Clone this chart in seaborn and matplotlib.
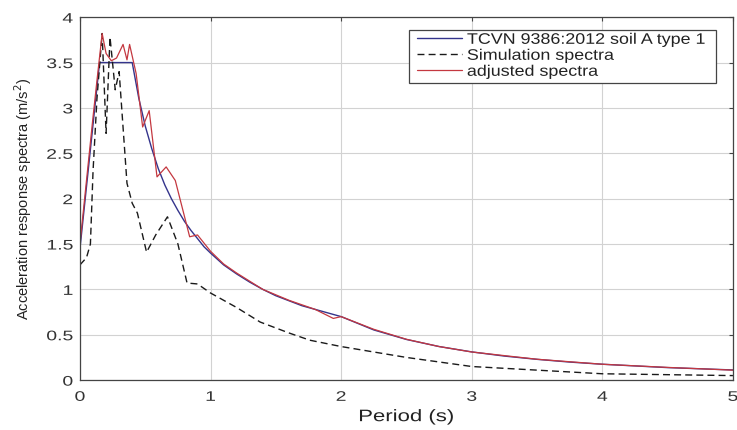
import seaborn as sns
import matplotlib.pyplot as plt
from matplotlib.patches import Rectangle
from matplotlib.patheffects import AbstractPathEffect
from matplotlib.transforms import Affine2D

# Design spectrum TCVN 9386:2012, soil A, type 1
t_design = [0, 0.15, 0.4, 0.45, 0.5, 0.55, 0.6, 0.65, 0.7, 0.75, 0.8, 0.85, 0.9, 0.95,
            1.0, 1.1, 1.2, 1.3, 1.4, 1.5, 1.6, 1.7, 1.8, 1.9, 2.0, 2.25, 2.5, 2.75,
            3.0, 3.25, 3.5, 3.75, 4.0, 4.5, 5.0]
sa_design = [1.45, 3.5, 3.5, 3.11, 2.8, 2.55, 2.33, 2.15, 2.0, 1.87, 1.75, 1.65, 1.56,
             1.47, 1.4, 1.27, 1.17, 1.08, 1.0, 0.93, 0.875, 0.82, 0.78, 0.74, 0.7,
             0.553, 0.448, 0.37, 0.311, 0.265, 0.229, 0.199, 0.175, 0.138, 0.112]

# Simulation spectra
t_sim = [0, 0.05, 0.08, 0.1, 0.13, 0.17, 0.2, 0.23, 0.27, 0.3, 0.36, 0.4, 0.44, 0.51,
         0.58, 0.67, 0.75, 0.82, 0.9, 1.0, 1.2, 1.38, 1.6, 1.76, 2.0, 2.5, 3.0, 3.5,
         4.0, 4.5, 5.0]
sa_sim = [1.27, 1.35, 1.5, 2.3, 3.1, 3.82, 2.72, 3.78, 3.2, 3.4, 2.17, 1.95, 1.84, 1.41,
          1.6, 1.8, 1.5, 1.07, 1.06, 0.96, 0.8, 0.64, 0.52, 0.44, 0.37, 0.25, 0.15, 0.11,
          0.07, 0.06, 0.05]

# Adjusted spectra
t_adj = [0, 0.05, 0.1, 0.13, 0.17, 0.2, 0.24, 0.28, 0.33, 0.36, 0.38, 0.43, 0.48, 0.53,
         0.59, 0.66, 0.73, 0.84, 0.9, 1.0, 1.1, 1.2, 1.4, 1.6, 1.8, 1.94, 2.0, 2.25, 2.5,
         2.75, 3.0, 3.5, 4.0, 4.5, 5.0]
sa_adj = [1.5, 2.2, 2.9, 3.3, 3.82, 3.6, 3.52, 3.55, 3.7, 3.53, 3.7, 3.38, 2.79, 2.97,
          2.24, 2.35, 2.2, 1.58, 1.6, 1.42, 1.28, 1.18, 1.0, 0.88, 0.78, 0.68, 0.7, 0.56,
          0.45, 0.37, 0.31, 0.23, 0.175, 0.14, 0.11]

labels = ['TCVN 9386:2012 soil A type 1', 'Simulation spectra', 'adjusted spectra']


# the reference text is drawn wider than normal; stretch it horizontally
class HStretch(AbstractPathEffect):
    def __init__(self, sx, anchor='center'):
        super().__init__()
        self.sx = sx
        self.anchor = anchor

    def draw_path(self, renderer, gc, tpath, affine, rgbFace=None):
        ext = tpath.get_extents(affine)
        x0 = {'left': ext.x0, 'right': ext.x1}.get(self.anchor, (ext.x0 + ext.x1) / 2)
        tr = affine + Affine2D().translate(-x0, 0).scale(self.sx, 1).translate(x0, 0)
        renderer.draw_path(gc, tpath, tr, rgbFace)


sns.set_style("whitegrid")
plt.rcParams['font.family'] = ['Liberation Sans', 'DejaVu Sans']

fig = plt.figure(figsize=(7.37, 4.3), dpi=100)
ax = fig.add_axes([0.1085, 0.116, 0.886, 0.844])

sns.lineplot(x=t_design, y=sa_design, ax=ax, color='#34348c', lw=1.0, sort=False,
             estimator=None, label=labels[0])
sns.lineplot(x=t_sim, y=sa_sim, ax=ax, color='#1a1a1a', lw=1.0, sort=False,
             estimator=None, label=labels[1], linestyle='--')
sns.lineplot(x=t_adj, y=sa_adj, ax=ax, color='#c43840', lw=0.9, sort=False,
             estimator=None, label=labels[2])
ax.lines[1].set_dashes([5, 3])

ax.set_xlim(0, 5)
ax.set_ylim(0, 4)
ax.set_yticks([0, 0.5, 1, 1.5, 2, 2.5, 3, 3.5, 4])
ax.set_yticklabels(['0', '0.5', '1', '1.5', '2', '2.5', '3', '3.5', '4'])
ax.grid(True, color='#d2d2d2', lw=0.8)
for s in ax.spines.values():
    s.set_color('#444444')
    s.set_linewidth(0.9)
ax.tick_params(labelsize=10, labelcolor='#333333', color='#444444', direction='in',
               length=3, width=0.8, top=True, right=True)
ax.tick_params(axis='x', pad=7)
ax.tick_params(axis='y', pad=5)
for lab in ax.get_xticklabels():
    lab.set_path_effects([HStretch(1.4, 'center')])
for lab in ax.get_yticklabels():
    lab.set_path_effects([HStretch(1.4, 'right')])

ax.set_xlabel('Period (s)', fontsize=12, color='#222222')
ax.xaxis.label.set_path_effects([HStretch(1.33, 'center')])
ax.xaxis.set_label_coords(0.5, -0.08)
ax.set_ylabel('Acceleration response spectra (m/s$^2$)', fontsize=10.5, color='#222222')
ax.yaxis.set_label_coords(-0.07, 0.5)

# legend box drawn by hand so it fits the widened text
ax.add_patch(Rectangle((0.504, 0.818), 0.47, 0.146, transform=ax.transAxes,
                       facecolor='white', edgecolor='#444444', lw=0.9, zorder=4.9))
leg = ax.legend(loc='upper left', bbox_to_anchor=(0.516, 0.957), frameon=False,
                fontsize=11, handlelength=2.95, borderpad=0, labelspacing=0.13,
                handletextpad=0.33, borderaxespad=0)
for txt in leg.get_texts():
    txt.set_path_effects([HStretch(1.17, 'left')])
    txt.set_color('#222222')

fig.savefig('out.png', dpi=100)
